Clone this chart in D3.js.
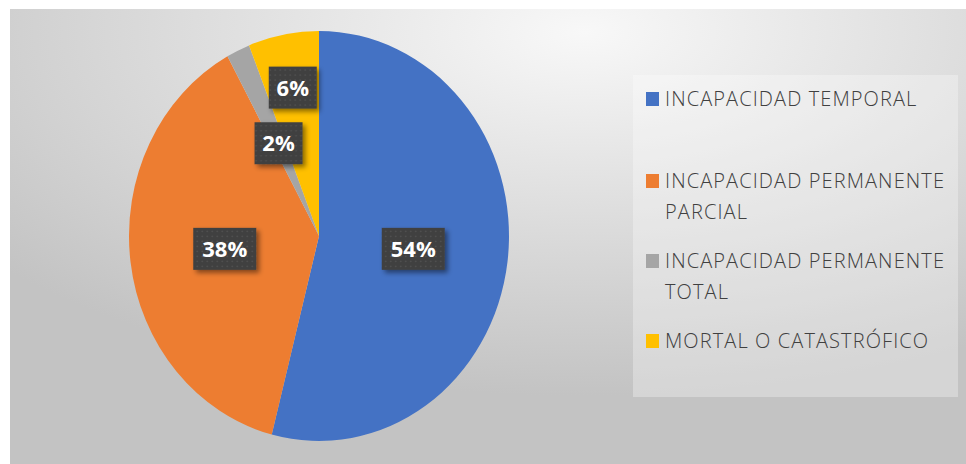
<!DOCTYPE html>
<html lang="es">
<head>
<meta charset="UTF-8">
<title>Pie</title>
<script src="https://d3js.org/d3.v7.min.js"></script>
<style>
  body { margin: 0; background: #fff; }
</style>
</head>
<body>
<script>
  const categories = ['INCAPACIDAD TEMPORAL', 'INCAPACIDAD PERMANENTE PARCIAL', 'INCAPACIDAD PERMANENTE TOTAL', 'MORTAL O CATASTRÓFICO'];
  const values = [54, 38, 2, 6];
  const legendLines = [['INCAPACIDAD TEMPORAL'], ['INCAPACIDAD PERMANENTE', 'PARCIAL'], ['INCAPACIDAD PERMANENTE', 'TOTAL'], ['MORTAL O CATASTRÓFICO']];
  const colors = ['#4472c4', '#ed7d31', '#a5a5a5', '#ffc000'];

  const W = 966, H = 464;
  const rx = 190, ry = 205;
  const cx = 319, cy = 236;

  const svg = d3.select('body').append('svg').attr('width', W).attr('height', H);
  const defs = svg.append('defs');

  const grad = defs.append('radialGradient').attr('id', 'bg')
    .attr('cx', 0.6).attr('cy', 0.05).attr('r', 0.8).attr('fx', 0.6).attr('fy', 0.05);
  grad.append('stop').attr('offset', 0).attr('stop-color', '#f8f8f8');
  grad.append('stop').attr('offset', 1).attr('stop-color', '#c3c3c3');

  const shadow = defs.append('filter').attr('id', 'shadow').attr('x', '-30%').attr('y', '-30%').attr('width', '160%').attr('height', '160%');
  shadow.append('feDropShadow').attr('dx', 3).attr('dy', 3).attr('stdDeviation', 2.5).attr('flood-color', '#000').attr('flood-opacity', 0.45);

  const pat = defs.append('pattern').attr('id', 'dots').attr('width', 5).attr('height', 5).attr('patternUnits', 'userSpaceOnUse');
  pat.append('rect').attr('width', 5).attr('height', 5).attr('fill', '#404040');
  pat.append('circle').attr('cx', 2.5).attr('cy', 2.5).attr('r', 0.8).attr('fill', '#555');

  // chart area
  svg.append('rect').attr('x', 10).attr('y', 9).attr('width', W - 10).attr('height', H - 9).attr('fill', 'url(#bg)');

  const pie = d3.pie().sort(null).value(d => d);
  const arcs = pie(values);
  const arcGen = d3.arc().innerRadius(0).outerRadius(rx);

  const g = svg.append('g').attr('transform', `translate(${cx},${cy}) scale(1,${ry / rx})`);
  g.selectAll('path').data(arcs).enter().append('path')
    .attr('d', arcGen)
    .attr('fill', (d, i) => colors[i]);

  // labels: centroid at half radius, small slices pushed out a bit
  const labelR = [95, 95, 95, 140];
  const lbl = svg.append('g').attr('transform', `translate(${cx},${cy})`);
  arcs.forEach((d, i) => {
    const a = (d.startAngle + d.endAngle) / 2;
    const x = Math.sin(a) * labelR[i];
    const y = -Math.cos(a) * labelR[i] * ry / rx;
    const t = values[i] + '%';
    const w = t.length > 2 ? 63 : 48;
    const lg = lbl.append('g').attr('transform', `translate(${x},${y})`);
    lg.append('rect').attr('x', -w / 2).attr('y', -21).attr('width', w).attr('height', 42)
      .attr('fill', 'url(#dots)').attr('filter', 'url(#shadow)');
    lg.append('text').attr('text-anchor', 'middle').attr('dy', 8)
      .attr('font-family', 'Open Sans').attr('font-weight', 'bold').attr('font-size', 22)
      .attr('fill', '#fff').text(t);
  });

  // legend
  const legend = svg.append('g');
  legend.append('rect').attr('x', 633).attr('y', 75).attr('width', 325).attr('height', 322)
    .attr('fill', '#fff').attr('fill-opacity', 0.3);
  const firstBase = [106, 188, 268, 348];
  categories.forEach((c, i) => {
    const e = legend.append('g').attr('transform', `translate(646,${firstBase[i]})`);
    e.append('rect').attr('x', 0).attr('y', -14).attr('width', 13).attr('height', 14).attr('fill', colors[i]);
    const tx = e.append('text').attr('font-family', 'Open Sans').attr('font-weight', 300)
      .attr('font-size', 20).attr('letter-spacing', 1.1).attr('fill', '#404040');
    legendLines[i].forEach((ln, j) => {
      tx.append('tspan').attr('x', 19).attr('y', j * 31).text(ln);
    });
  });
</script>
</body>
</html>
